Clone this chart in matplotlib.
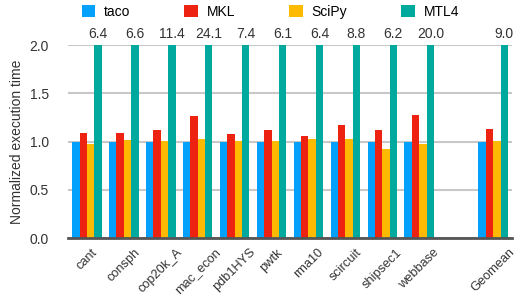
import numpy as np
import matplotlib
matplotlib.use('Agg')
import matplotlib.pyplot as plt

plt.rcParams['font.family'] = ['Liberation Sans', 'DejaVu Sans']

matrices = ['cant', 'consph', 'cop20k_A', 'mac_econ', 'pdb1HYS', 'pwtk',
            'rma10', 'scircuit', 'shipsec1', 'webbase', 'Geomean']
taco = [1.0, 1.0, 1.0, 1.0, 1.0, 1.0, 1.0, 1.0, 1.0, 1.0, 1.0]
mkl = [1.09, 1.09, 1.12, 1.27, 1.08, 1.12, 1.06, 1.17, 1.12, 1.28, 1.13]
scipy = [0.97, 1.02, 1.01, 1.03, 1.01, 1.01, 1.03, 1.03, 0.92, 0.98, 1.01]
mtl4 = [6.4, 6.6, 11.4, 24.1, 7.4, 6.1, 6.4, 8.8, 6.2, 20.0, 9.0]

colors = ['#03a1fc', '#ee2211', '#fdba00', '#00a99d']
names = ['taco', 'MKL', 'SciPy', 'MTL4']

# geomean sits one slot further right
x = np.array(list(range(10)) + [11], dtype=float)
w = 0.2

fig = plt.figure(figsize=(5.24, 2.99), dpi=100)
ax = fig.add_axes([0.13, 0.204, 0.847, 0.645])

for i, vals in enumerate([taco, mkl, scipy, mtl4]):
    ax.bar(x + (i - 1.5) * w, vals, w, color=colors[i], label=names[i], zorder=3)

for xi, v in zip(x, mtl4):
    ax.text(xi + 1.5 * w, 2.0 + 0.04, '%.1f' % v, ha='center', va='bottom',
            fontsize=10, color='#333333')

ax.set_ylim(0, 2.0)
ax.set_xlim(-0.51, 11.51)
ax.set_yticks([0, 0.5, 1.0, 1.5, 2.0])
ax.set_yticklabels(['0.0', '0.5', '1.0', '1.5', '2.0'])
ax.yaxis.grid(True, color='#c8c8c8', linewidth=1.5, zorder=0)
ax.set_axisbelow(True)
for s in ['top', 'right', 'left']:
    ax.spines[s].set_visible(False)
ax.spines['bottom'].set_color('#555555')
ax.spines['bottom'].set_linewidth(2)
ax.spines['bottom'].set_zorder(4)
ax.tick_params(length=0, labelsize=10, colors='#333333')
ax.tick_params(axis='y', pad=14)
ax.tick_params(axis='x', pad=6, labelsize=9.2)
ax.set_xticks(x)
ax.set_xticklabels(matrices, rotation=45, ha='center', va='top')
ax.set_ylabel('Normalized execution time', fontsize=10, color='#333333')

fig.legend(*ax.get_legend_handles_labels(), loc='center',
           bbox_to_anchor=(0.516, 0.96), ncol=4, frameon=False,
           fontsize=10, handlelength=0.95, handleheight=0.95,
           columnspacing=3.9, handletextpad=0.65)

fig.savefig('out.png', dpi=100)
